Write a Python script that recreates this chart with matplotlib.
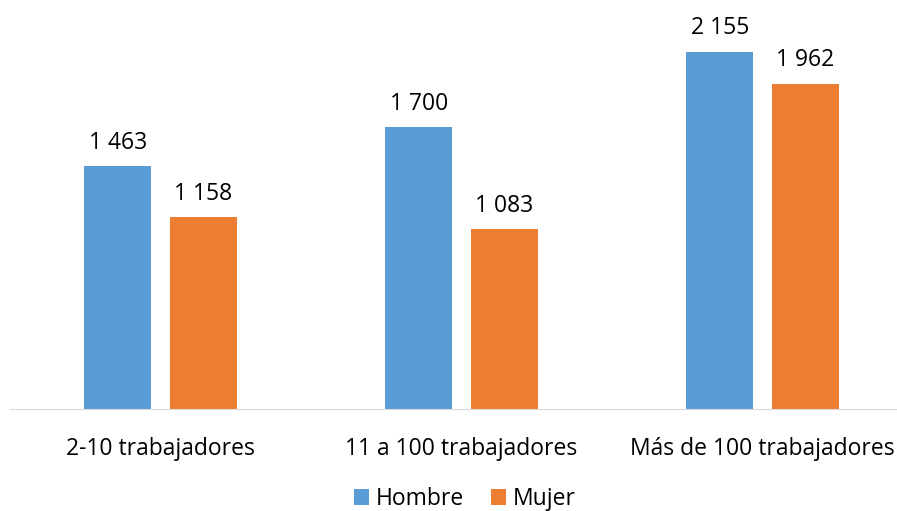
import numpy as np
import matplotlib.pyplot as plt

plt.rcParams['font.family'] = ['Open Sans', 'DejaVu Sans']

# Datos
categorias = ['2-10 trabajadores', '11 a 100 trabajadores', 'Más de 100 trabajadores']
hombre = [1463, 1700, 2155]
mujer = [1158, 1083, 1962]

fig = plt.figure(figsize=(8.97, 5.11), dpi=100)
ax = fig.add_axes([10/897, 1 - 409/511, 887/897, 409/511 - 0.001])

x = np.arange(len(categorias))
w = 0.223
b1 = ax.bar(x - 0.142, hombre, width=w, color='#5B9BD5', label='Hombre')
b2 = ax.bar(x + 0.143, mujer, width=w, color='#ED7D31', label='Mujer')

def fmt(v):
    return f'{v:,}'.replace(',', ' ')

for bars, vals in [(b1, hombre), (b2, mujer)]:
    for bar, v in zip(bars, vals):
        ax.text(bar.get_x() + bar.get_width() / 2, v + 68, fmt(v),
                ha='center', va='bottom', fontsize=16.5)

ax.set_xlim(-0.5, -0.5 + 887/301)
ax.set_ylim(0, 2464)
ax.set_xticks(x)
ax.set_xticklabels(categorias, fontsize=16.5)
ax.tick_params(axis='x', length=0, pad=20)
ax.set_yticks([])
for s in ['top', 'right', 'left']:
    ax.spines[s].set_visible(False)
ax.spines['bottom'].set_color('#D9D9D9')

fig.legend(loc='center', bbox_to_anchor=(465/897, 1 - 499/511), ncol=2, frameon=False,
           fontsize=16.5, handlelength=0.65, handleheight=0.65, handletextpad=0.3,
           columnspacing=1.2)

fig.savefig('out.png', dpi=100)
